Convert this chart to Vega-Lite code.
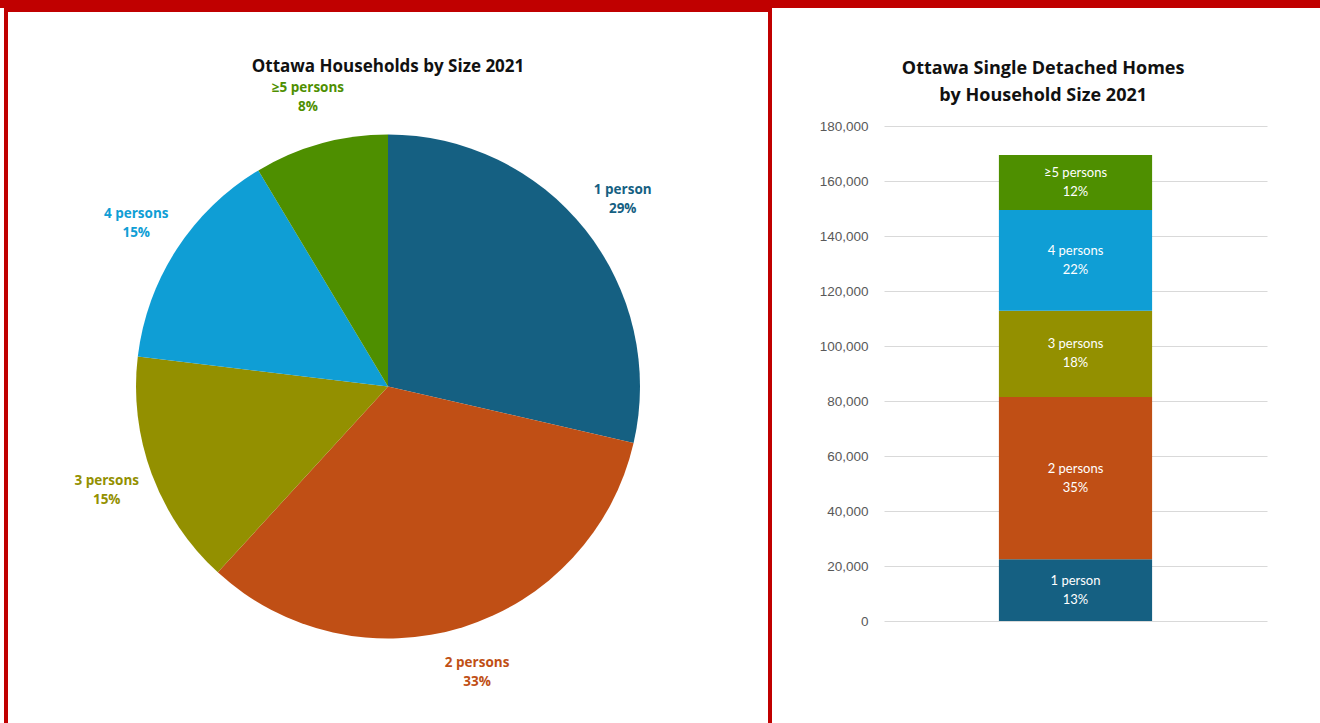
{
  "$schema": "https://vega.github.io/schema/vega-lite/v6.json",
  "padding": 0,
  "background": "white",
  "config": {"view": {"stroke": null}, "concat": {"spacing": 0}, "font": "Open Sans"},
  "datasets": {
    "pie": [
      {"size": "1 person", "ord": 1, "share": 28.6, "label": "1 person\n29%"},
      {"size": "2 persons", "ord": 2, "share": 33.2, "label": "2 persons\n33%"},
      {"size": "3 persons", "ord": 3, "share": 15.1, "label": "3 persons\n15%"},
      {"size": "4 persons", "ord": 4, "share": 14.5, "label": "4 persons\n15%"},
      {"size": "≥5 persons", "ord": 5, "share": 8.6, "label": "≥5 persons\n8%"}
    ],
    "bar": [
      {"cat": "Single detached", "size": "1 person", "ord": 1, "homes": 22500, "label": "1 person\n13%"},
      {"cat": "Single detached", "size": "2 persons", "ord": 2, "homes": 59000, "label": "2 persons\n35%"},
      {"cat": "Single detached", "size": "3 persons", "ord": 3, "homes": 31300, "label": "3 persons\n18%"},
      {"cat": "Single detached", "size": "4 persons", "ord": 4, "homes": 36700, "label": "4 persons\n22%"},
      {"cat": "Single detached", "size": "≥5 persons", "ord": 5, "homes": 20000, "label": "≥5 persons\n12%"}
    ]
  },
  "vconcat": [
    {
      "width": 1320,
      "height": 8,
      "view": {"fill": "#c00000", "stroke": null},
      "data": {"values": []},
      "mark": "rect",
      "encoding": {}
    },
    {
      "spacing": 47,
      "hconcat": [
        {
          "spacing": 0,
          "hconcat": [
            {"width": 4, "height": 1, "data": {"values": []}, "mark": "rect", "encoding": {}},
            {
              "width": 764,
              "height": 715,
              "view": {"stroke": "#c00000", "strokeWidth": 4},
              "title": {"text": "Ottawa Households by Size  2021", "fontSize": 17, "fontWeight": "bold", "font": "Open Sans", "color": "#111111", "offset": -66, "anchor": "middle", "frame": "group"},
              "data": {"name": "pie"},
              "encoding": {
                "theta": {"field": "share", "type": "quantitative", "stack": true},
                "order": {"field": "ord", "type": "quantitative"},
                "color": {
                  "field": "size", "type": "nominal", "legend": null,
                  "scale": {"domain": ["1 person", "2 persons", "3 persons", "4 persons", "≥5 persons"], "range": ["#156082", "#c04f15", "#939000", "#0f9ed5", "#4e8f00"]}
                }
              },
              "layer": [
                {"mark": {"type": "arc", "radius": 252, "yOffset": 19}},
                {"mark": {"type": "text", "radius": 300, "yOffset": 19, "dy": -9.5, "fontWeight": "bold", "fontSize": 13.5, "lineBreak": "\n", "lineHeight": 19, "font": "Open Sans"}, "encoding": {"text": {"field": "label", "type": "nominal"}}}
              ]
            }
          ]
        },
        {
          "spacing": 0,
          "vconcat": [
            {"width": 383, "height": 50, "data": {"values": []}, "mark": "rect", "encoding": {}},
            {
              "width": 383,
              "height": 495,
              "title": {"text": ["Ottawa Single Detached Homes", "by Household Size 2021"], "fontSize": 18, "fontWeight": "bold", "font": "Open Sans", "color": "#111111", "lineHeight": 27, "offset": 14, "anchor": "middle", "frame": "bounds"},
              "data": {"name": "bar"},
              "transform": [
                {"stack": "homes", "groupby": ["cat"], "sort": [{"field": "ord", "order": "ascending"}], "as": ["y0", "y1"]},
                {"calculate": "(datum.y0 + datum.y1) / 2", "as": "mid"}
              ],
              "encoding": {
                "x": {"field": "cat", "type": "nominal", "axis": null, "scale": {"paddingInner": 0, "paddingOuter": 0}}
              },
              "layer": [
                {
                  "mark": {"type": "bar", "width": {"band": 0.4}},
                  "encoding": {
                    "y": {"field": "y0", "type": "quantitative", "scale": {"domain": [0, 180000]},
                      "axis": {"title": null, "values": [0, 20000, 40000, 60000, 80000, 100000, 120000, 140000, 160000, 180000], "format": ",.0f", "domain": false, "ticks": false, "labelPadding": 16, "labelFontSize": 13.5, "labelFont": "Liberation Sans", "labelColor": "#595959", "gridColor": "#d9d9d9", "gridWidth": 1}},
                    "y2": {"field": "y1"},
                    "color": {
                      "field": "size", "type": "nominal", "legend": null,
                      "scale": {"domain": ["1 person", "2 persons", "3 persons", "4 persons", "≥5 persons"], "range": ["#156082", "#c04f15", "#939000", "#0f9ed5", "#4e8f00"]}
                    }
                  }
                },
                {
                  "mark": {"type": "text", "color": "white", "fontSize": 13, "dy": -9.5, "lineBreak": "\n", "lineHeight": 19, "font": "Lato"},
                  "encoding": {
                    "y": {"field": "mid", "type": "quantitative"},
                    "text": {"field": "label", "type": "nominal"}
                  }
                }
              ]
            }
          ]
        }
      ]
    }
  ]
}
